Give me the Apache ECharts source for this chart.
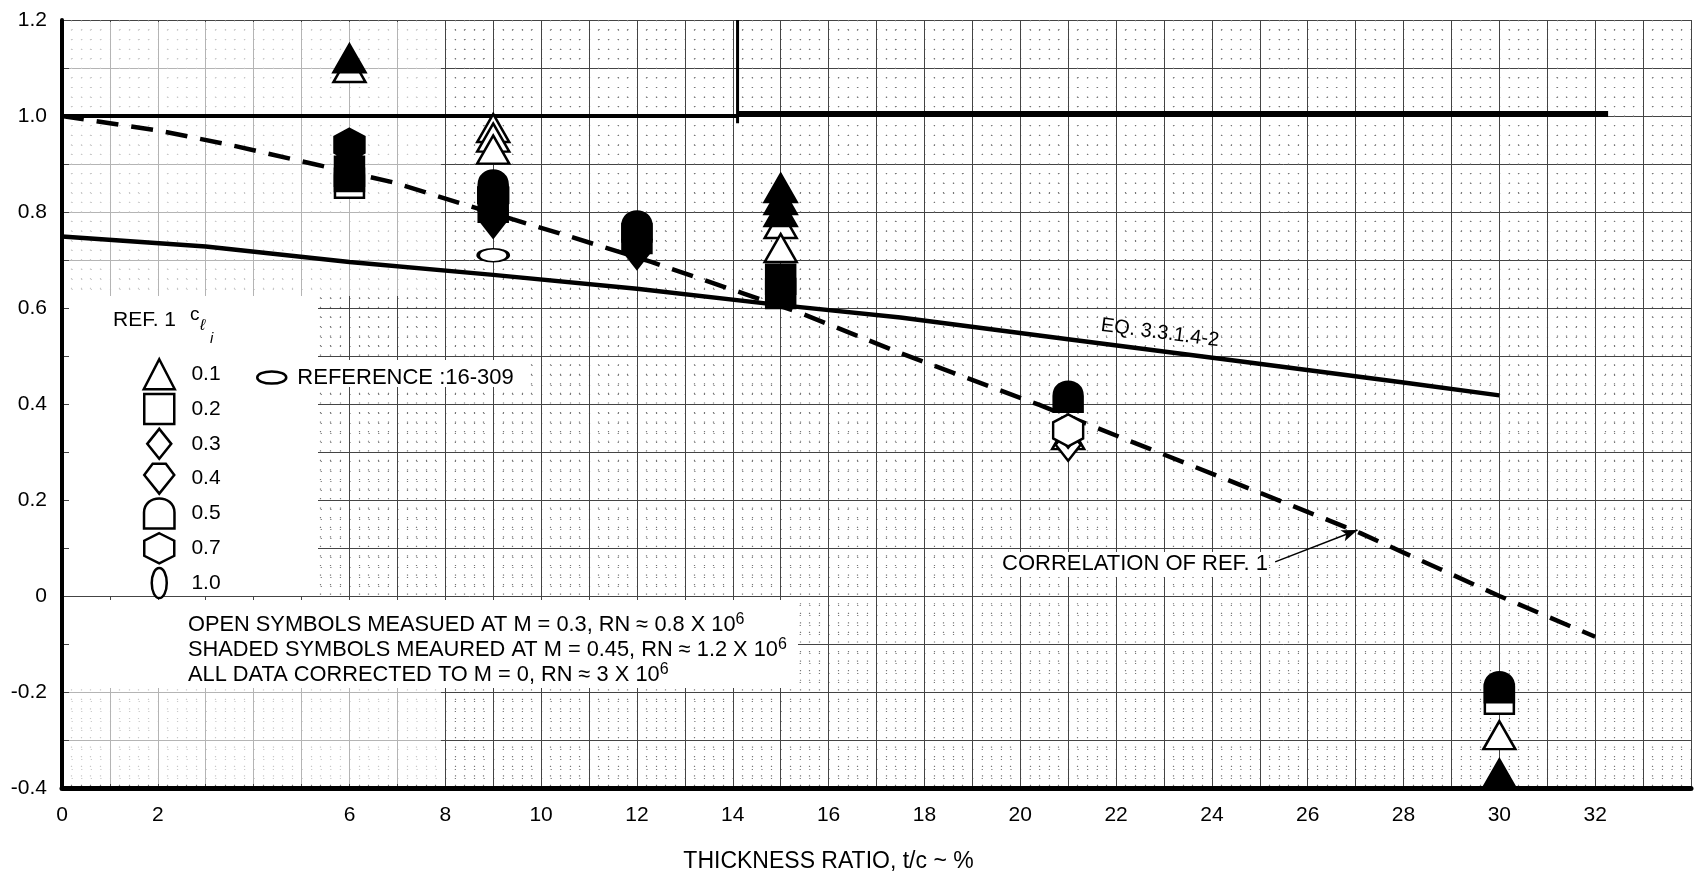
<!DOCTYPE html>
<html lang="en">
<head>
    <meta charset="UTF-8">
    <title>Thickness ratio</title>
    <script src="https://cdn.jsdelivr.net/npm/echarts@6/dist/echarts.min.js"></script>
    <style>html, body { margin: 0; padding: 0; background: #fff; }</style>
</head>
<body>
    <div id="chartDiv" style="width: 1694px;height:875px"></div>
    <script>
        // tick labels shown on the axes (4 is missing on the original)
        var xTickLabels = [0, 2, 6, 8, 10, 12, 14, 16, 18, 20, 22, 24, 26, 28, 30, 32];
        var yTickLabels = [-0.4, -0.2, 0, 0.2, 0.4, 0.6, 0.8, 1.0, 1.2];

        // REF. 1 data, [t/c %, value]; open = M 0.3, shaded = M 0.45
        var cl01Open   = [[6, 1.10], [9, 0.975], [9, 0.955], [9, 0.93], [15, 0.775], [15, 0.725], [21, 0.335], [30, -0.29]];
        var cl01Shaded = [[6, 1.12], [15, 0.85], [15, 0.825], [15, 0.80], [30, -0.37]];
        var cl02Open   = [[6, 0.86], [30, -0.215]];
        var cl02Shaded = [[6, 0.885], [9, 0.81], [12, 0.745], [15, 0.66], [15, 0.63]];
        var cl03Open   = [[21, 0.315]];
        var cl03Shaded = [[6, 0.915], [9, 0.78], [12, 0.715]];
        var cl04Open   = [[21, 0.34]];
        var cl04Shaded = [[9, 0.795], [12, 0.735]];
        var cl05Open   = [];
        var cl05Shaded = [[6, 0.875], [9, 0.855], [12, 0.77], [21, 0.415], [30, -0.19]];
        var cl07Open   = [[21, 0.345]];
        var cl07Shaded = [[6, 0.94], [9, 0.835]];
        var cl10Open   = [];
        var cl10Shaded = [];
        var ref216Open = [[9, 0.71]];

        // curves
        var eqX = [0, 3, 6, 9, 12, 15, 17.5, 21, 24.5, 28, 30];
        var eqY = [0.749, 0.728, 0.696, 0.669, 0.64, 0.606, 0.58, 0.535, 0.49, 0.445, 0.418];
        var corrX = [0, 1, 2, 3.5, 5.25, 6.9, 9.4, 10.5, 12.3, 14.2, 15.4, 17.5, 20.4, 24.6, 27.1, 30, 32];
        var corrY = [1.0, 0.985, 0.97, 0.94, 0.90, 0.862, 0.785, 0.752, 0.696, 0.631, 0.59, 0.506, 0.398, 0.231, 0.131, 0.0, -0.085];
        var limitLeft = [[0, 1.0], [14.1, 1.0]];
        var limitRight = [[14.1, 1.004], [32.27, 1.004]];
        var limitWall = [[14.1, 1.2], [14.1, 0.985]];

        var FONT = 'Liberation Sans';
        var shapes = {
            '0.1': 'triangle',
            '0.2': 'path://M0,0L100,0L100,100L0,100Z',
            '0.3': 'path://M40,0L80,50L40,100L0,50Z',
            '0.4': 'path://M28,0L72,0L100,38L50,100L0,38Z',
            '0.5': 'path://M0,100L0,48C0,-14 100,-14 100,48L100,100Z',
            '0.7': 'path://M50,0L100,25L100,75L50,100L0,75L0,25Z',
            '1.0': 'path://M25,0C39,0 50,22 50,50C50,78 39,100 25,100C11,100 0,78 0,50C0,22 11,0 25,0Z',
            'ref': 'path://M0,21C0,9 22,0 50,0C78,0 100,9 100,21C100,33 78,42 50,42C22,42 0,33 0,21Z'
        };
        var sizes = {
            '0.1': [32, 28], '0.2': [29, 29], '0.3': [25, 32], '0.4': [29, 30],
            '0.5': [29, 30], '0.7': [30, 32], '1.0': [13, 27], 'ref': [30, 13]
        };

        // open symbols first, shaded ones drawn over them
        function pts(shaded, open) {
            return open.map(function (p) { return { value: p, itemStyle: { color: '#fff' } }; })
                .concat(shaded.map(function (p) { return { value: p }; }));
        }
        function xy(xs, ys) {
            return xs.map(function (x, i) { return [x, ys[i]]; });
        }
        function markerSeries(name, key, data) {
            return {
                name: name, type: 'scatter', symbol: shapes[key], symbolSize: sizes[key],
                itemStyle: { color: '#000', borderColor: '#000', borderWidth: 2.5, opacity: 1 },
                emphasis: { disabled: true }, z: 3, data: data
            };
        }
        function lineSeries(name, data, width, type) {
            return {
                name: name, type: 'line', showSymbol: false, symbol: 'none', data: data,
                lineStyle: { color: '#000', width: width, type: type || 'solid' },
                emphasis: { disabled: true }, z: 2
            };
        }
        function openIcon(name, key) {
            return { name: name, icon: shapes[key],
                itemStyle: { color: '#fff', borderColor: '#000', borderWidth: 2.5 } };
        }

        var mycharts = echarts.init(document.getElementById('chartDiv'));

        var corrSeries = lineSeries('CORRELATION OF REF. 1', xy(corrX, corrY), 4.5, [22, 13]);
        corrSeries.markLine = {
            silent: true, symbol: ['none', 'arrow'], symbolSize: [9, 16],
            lineStyle: { type: 'solid', width: 1.5, color: '#000' },
            label: { show: false },
            data: [[{ coord: [25.32, 0.071] }, { coord: [27.04, 0.1375] }]]
        };

        var dotStyle = { color: '#777', width: 1.2, type: [1.2, 8.36] };

        var option = {
            animation: false,
            backgroundColor: '#fff',
            grid: { left: 62, right: 3, top: 20, bottom: 87, containLabel: false, outerBoundsMode: 'none' },
            xAxis: {
                type: 'value', min: 0, max: 34, interval: 1,
                name: 'THICKNESS RATIO, t/c ~ %', nameLocation: 'middle', nameGap: 62,
                nameTextStyle: { color: '#000', fontSize: 23, fontFamily: FONT, padding: [0, 96, 0, 0] },
                axisLine: { show: true, onZero: false, lineStyle: { color: '#000', width: 5 } },
                axisTick: { show: false },
                axisLabel: {
                    color: '#000', fontSize: 21, fontFamily: FONT, margin: 17,
                    formatter: function (v) { return xTickLabels.indexOf(v) >= 0 ? String(v) : ''; }
                },
                splitLine: { show: true, lineStyle: { color: '#444', width: 1 } },
                minorTick: { show: true, splitNumber: 5, length: 0 },
                minorSplitLine: { show: true, lineStyle: dotStyle }
            },
            yAxis: {
                type: 'value', min: -0.4, max: 1.2, interval: 0.1,
                axisLine: { show: true, onZero: false, lineStyle: { color: '#000', width: 4 } },
                axisTick: { show: false },
                axisLabel: {
                    color: '#000', fontSize: 21, fontFamily: FONT, margin: 15,
                    formatter: function (v) {
                        var k = Math.round(v * 10) / 10;
                        var hit = yTickLabels.some(function (t) { return Math.abs(t - k) < 1e-6; });
                        if (!hit) return '';
                        return k === 0 ? '0' : k.toFixed(1);
                    }
                },
                splitLine: { show: true, lineStyle: { color: '#444', width: 1 } },
                minorTick: { show: true, splitNumber: 5, length: 0 },
                minorSplitLine: { show: true, lineStyle: { color: '#777', width: 1.2, type: [1.2, 8.38] } }
            },
            legend: [{
                orient: 'vertical', left: 142.5, top: 358, padding: 0,
                itemWidth: 31, itemHeight: 30, itemGap: 2.3, selectedMode: false,
                formatter: '  {name}',
                textStyle: { color: '#000', fontSize: 21, fontFamily: FONT },
                data: [openIcon('0.1', '0.1'), openIcon('0.2', '0.2'), openIcon('0.3', '0.3'),
                    openIcon('0.4', '0.4'), openIcon('0.5', '0.5'), openIcon('0.7', '0.7'),
                    openIcon('1.0', '1.0')]
            }, {
                orient: 'vertical', left: 256, top: 366.5, padding: 0,
                itemWidth: 29, itemHeight: 13, selectedMode: false,
                formatter: ' {name}',
                textStyle: { color: '#000', fontSize: 22, fontFamily: FONT },
                data: [openIcon('REFERENCE :16-309', 'ref')]
            }],
            graphic: [
                // faded / blank parts of the graph paper
                { type: 'rect', z: 1, shape: { x: 69, y: 22, width: 372, height: 274 }, style: { fill: 'rgba(255,255,255,0.6)' } },
                { type: 'rect', z: 1, shape: { x: 69, y: 688, width: 372, height: 96 }, style: { fill: 'rgba(255,255,255,0.6)' } },
                { type: 'rect', z: 1, shape: { x: 69, y: 296, width: 249, height: 300 }, style: { fill: '#fff' } },
                { type: 'rect', z: 1, shape: { x: 69, y: 600, width: 729, height: 88 }, style: { fill: '#fff' } },
                { type: 'rect', z: 1, shape: { x: 250, y: 360, width: 280, height: 27 }, style: { fill: '#fff' } },
                { type: 'rect', z: 1, shape: { x: 996, y: 552, width: 270, height: 25 }, style: { fill: '#fff' } },
                // legend heading
                { type: 'text', z: 5, x: 113, y: 320, style: { text: 'REF. 1', fontSize: 21, fontFamily: FONT, fill: '#000', verticalAlign: 'middle', textVerticalAlign: 'middle' } },
                { type: 'text', z: 5, x: 190, y: 315, style: { text: 'c', fontSize: 19, fontFamily: FONT, fill: '#000', verticalAlign: 'middle', textVerticalAlign: 'middle' } },
                { type: 'text', z: 5, x: 200, y: 326, style: { text: 'ℓ', fontSize: 16, fontStyle: 'italic', fontFamily: FONT, fill: '#000', verticalAlign: 'middle', textVerticalAlign: 'middle' } },
                { type: 'text', z: 5, x: 210, y: 339, style: { text: 'i', fontSize: 15, fontStyle: 'italic', fontFamily: FONT, fill: '#000', verticalAlign: 'middle', textVerticalAlign: 'middle' } },
                // notes
                { type: 'text', z: 5, x: 188, y: 612, style: {
                    text: 'OPEN SYMBOLS MEASUED AT M = 0.3, RN ≈ 0.8 X 10{s|6}\nSHADED SYMBOLS MEAURED AT M = 0.45, RN ≈ 1.2 X 10{s|6}\nALL DATA CORRECTED TO M = 0, RN ≈ 3 X 10{s|6}',
                    fontSize: 21.8, fontFamily: FONT, fill: '#000', lineHeight: 25,
                    verticalAlign: 'top', textVerticalAlign: 'top',
                    rich: { s: { fontSize: 16, fontFamily: FONT, fill: '#000', verticalAlign: 'top', lineHeight: 25, padding: [0, 0, 6, 0] } }
                } },
                { type: 'text', z: 5, x: 1160, y: 333, rotation: -0.129, style: {
                    text: 'EQ. 3.3.1.4-2', fontSize: 20, fontFamily: FONT, fill: '#000',
                    align: 'center', textAlign: 'center', verticalAlign: 'middle', textVerticalAlign: 'middle'
                } },
                { type: 'text', z: 5, x: 1002, y: 564, style: {
                    text: 'CORRELATION OF REF. 1', fontSize: 22, fontFamily: FONT, fill: '#000',
                    verticalAlign: 'middle', textVerticalAlign: 'middle'
                } }
            ],
            series: [
                lineSeries('EQ. 3.3.1.4-2', xy(eqX, eqY), 4.5),
                corrSeries,
                lineSeries('limit left', limitLeft, 4),
                lineSeries('limit right', limitRight, 6),
                lineSeries('limit wall', limitWall, 3),
                markerSeries('0.1', '0.1', pts(cl01Shaded, cl01Open)),
                markerSeries('0.2', '0.2', pts(cl02Shaded, cl02Open)),
                markerSeries('0.3', '0.3', pts(cl03Shaded, cl03Open)),
                markerSeries('0.4', '0.4', pts(cl04Shaded, cl04Open)),
                markerSeries('0.5', '0.5', pts(cl05Shaded, cl05Open)),
                markerSeries('0.7', '0.7', pts(cl07Shaded, cl07Open)),
                markerSeries('1.0', '1.0', pts(cl10Shaded, cl10Open)),
                markerSeries('REFERENCE :16-309', 'ref', pts([], ref216Open))
            ]
        };

        mycharts.setOption(option, true);
    </script>
</body>
</html>
